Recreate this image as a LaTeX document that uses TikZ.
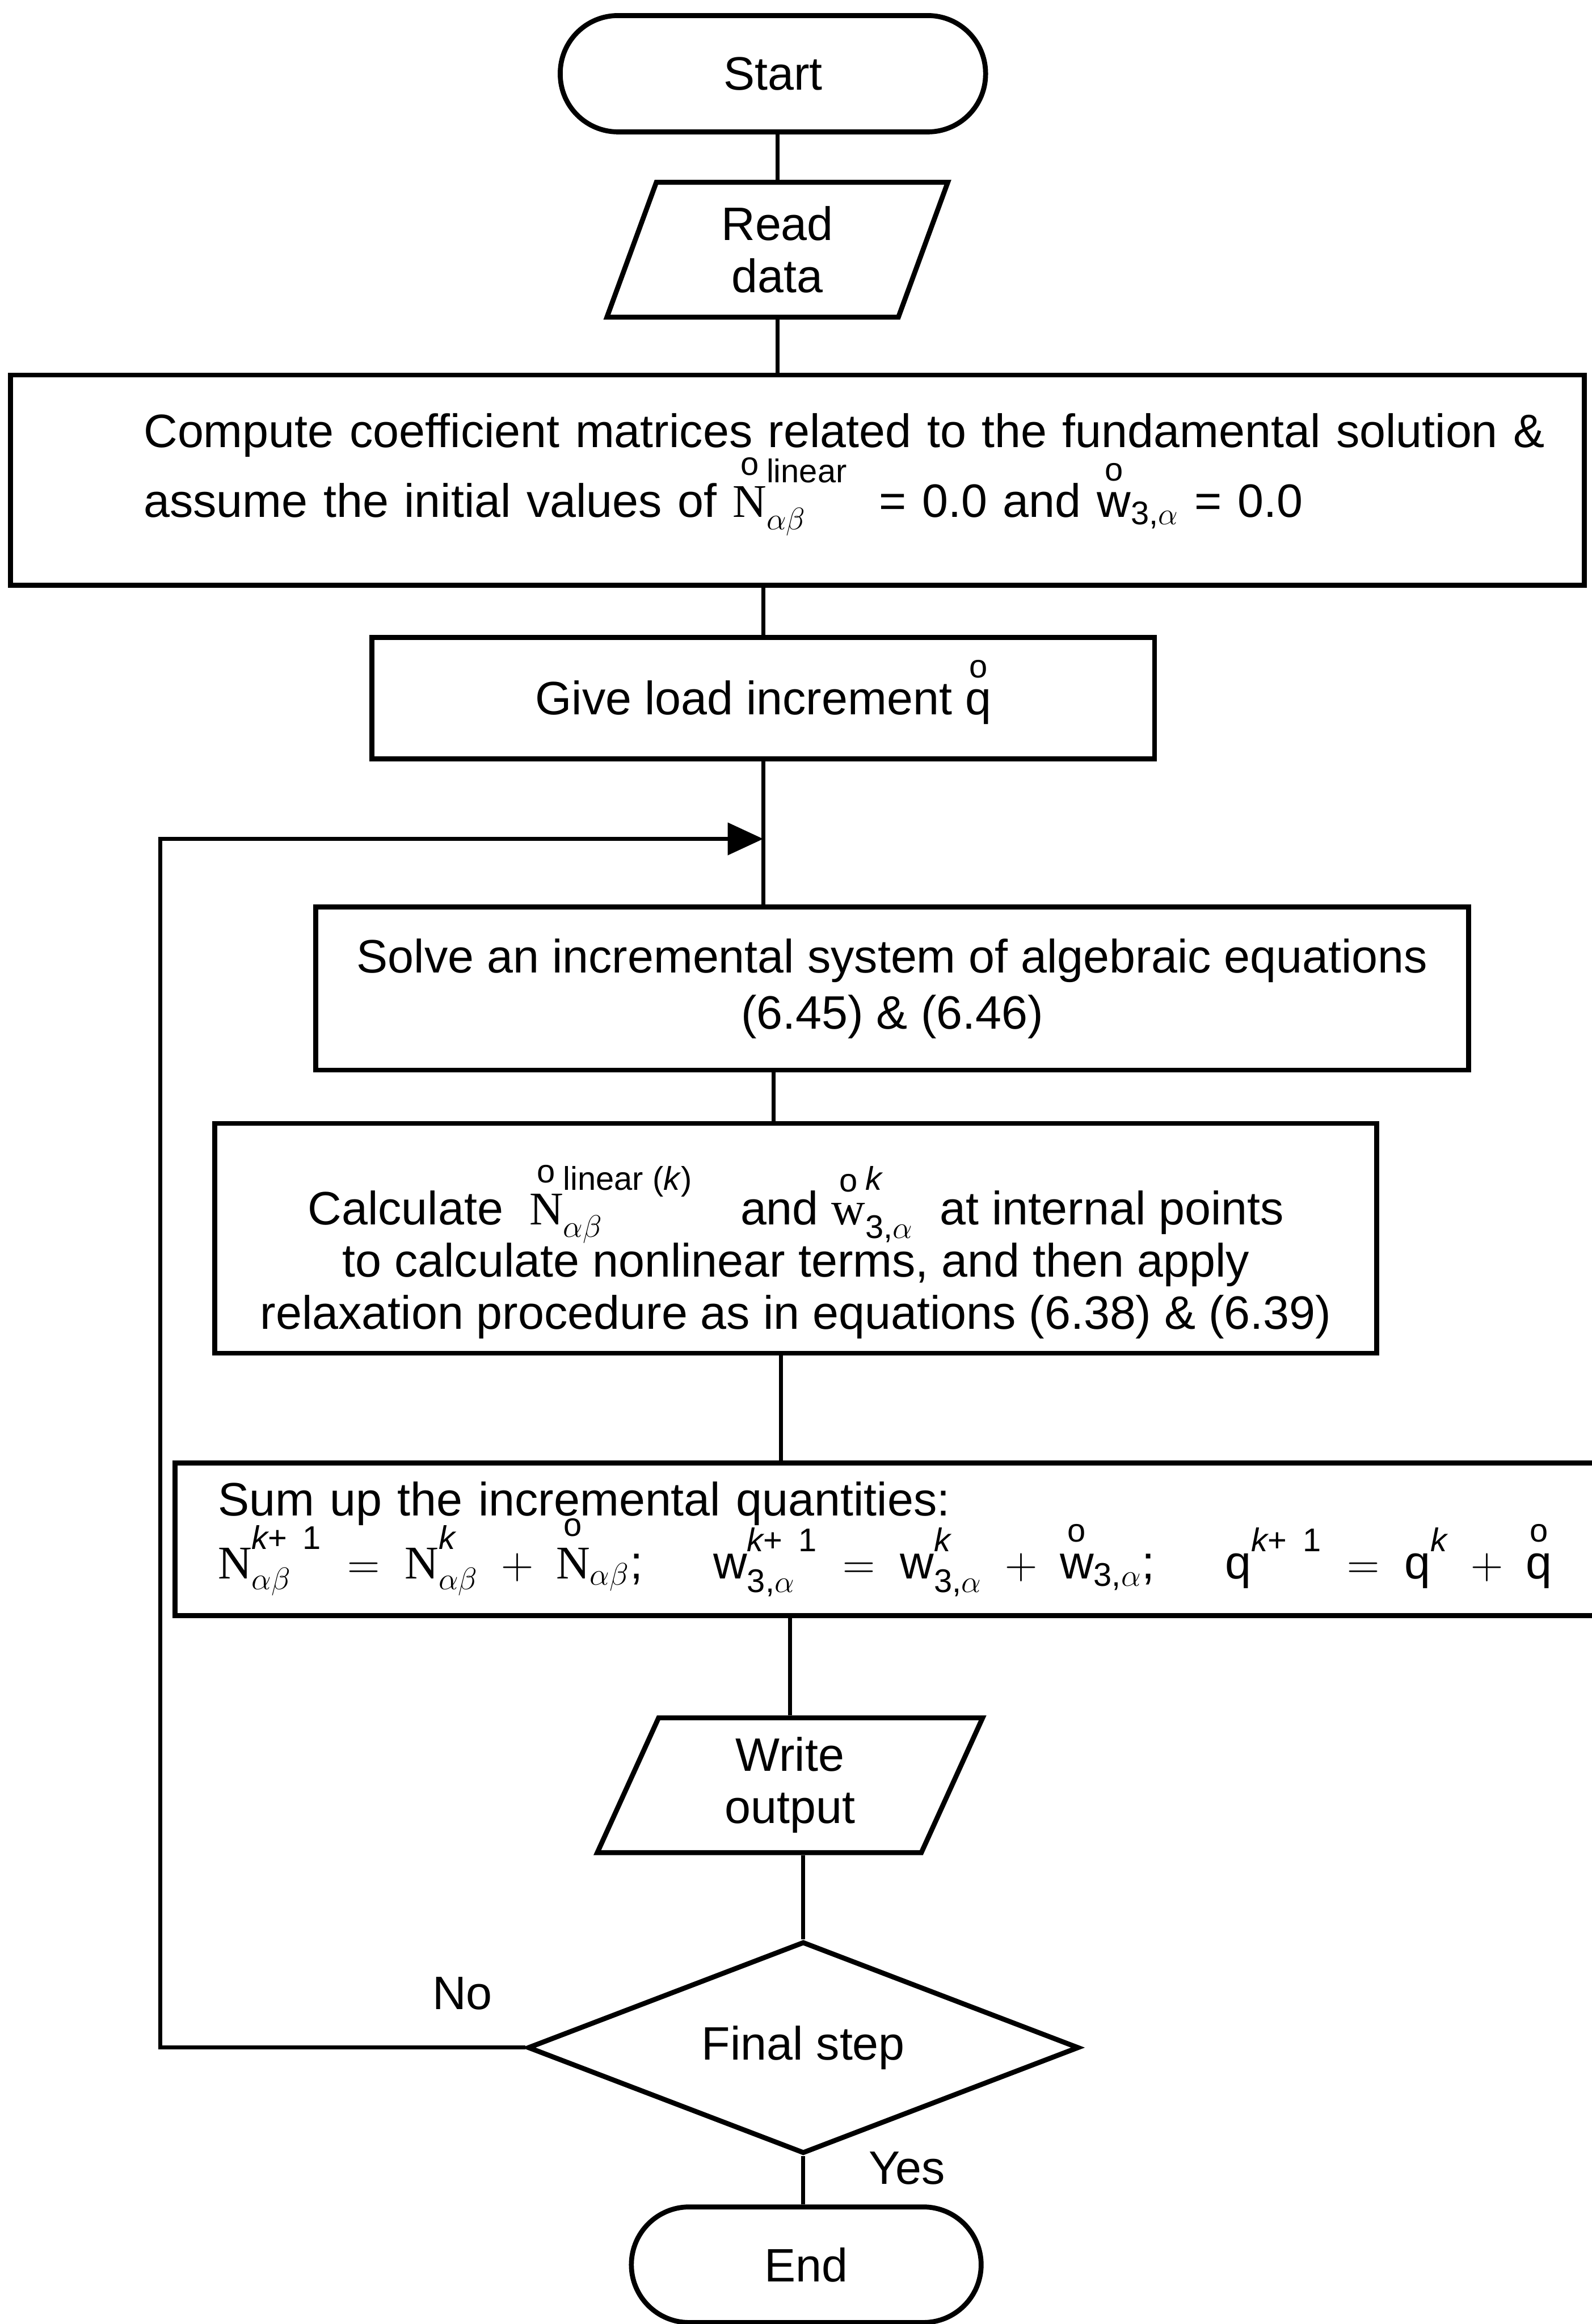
\documentclass[tikz,border=0pt]{standalone}
\usepackage{amsmath}
\usepackage{fontspec}
\setmainfont{Liberation Sans}
\newfontfamily\serifN{Liberation Serif}
\usetikzlibrary{shapes.geometric, arrows.meta}

\newcommand{\anillo}[1]{\overset{\raisebox{1pt}{$\scriptstyle\text{o}$}}{#1}}
\newcommand{\sobre}[2][4pt]{\raisebox{#1}{$\scriptstyle #2$}}
\newcommand{\NN}{\text{\serifN N}}
\newcommand{\kk}{\text{\itshape k}}

\begin{document}
\begin{tikzpicture}[
    font=\fontsize{18}{20}\selectfont,
    caja/.style={draw, line width=1.9pt, align=center},
    terminal/.style={caja, rounded corners=7.8mm, minimum height=1.57cm},
    datos/.style={caja, trapezium, trapezium stretches body=true, minimum height=1.82cm, inner sep=1mm},
    decision/.style={caja, diamond, aspect=2.6, inner sep=0pt, minimum width=7.44cm, minimum height=2.86cm},
    flecha/.style={line width=1.5pt}
]
    \useasboundingbox (0,0) rectangle (21.48,-31.36);

    % Inicio y lectura
    \node[terminal, minimum width=5.74cm] (start) at (10.43,-0.995) {Start};
    \node[datos, trapezium left angle=64, trapezium right angle=116, minimum width=4.6cm] (read) at (10.49,-3.37) {Read\\data};

    % Matrices y valores iniciales
    \node[caja, minimum width=21.24cm, minimum height=2.84cm, align=left, text width=17.64cm] (compute) at (10.76,-6.48)
        {\mbox{Compute coefficient matrices related to the fundamental solution \&}\\[0.24cm]
         assume the initial values of $\smash{\anillo{\NN}{}^{\sobre[7pt]{\text{linear}}}_{\alpha\beta}}$\ \ = 0.0 and $\smash{\anillo{\text{w}}_{\text{3,}\alpha}}$ = 0.0\rule[-4mm]{0pt}{0pt}};

    % Incremento de carga
    \node[caja, minimum width=10.56cm, minimum height=1.64cm] (load) at (10.30,-9.42) {Give load increment $\smash{\anillo{\text{q}}}$};

    % Sistema incremental
    \node[caja, minimum width=15.56cm, minimum height=2.2cm] (solve) at (12.04,-13.34)
        {Solve an incremental system of algebraic equations\\[1.5pt] (6.45) \& (6.46)};

    % Terminos no lineales
    \node[caja, minimum width=15.68cm, minimum height=3.1cm] (calc) at (10.74,-16.71)
        {\rule{0pt}{1.17cm}Calculate\ \ $\smash{\anillo{\NN}{}^{\sobre[7pt]{\text{linear (\itshape k\/\upshape)}}}_{\alpha\beta}}$\quad and $\smash{\anillo{\text{\serifN w}}{}^{\sobre[7pt]{\kk}}_{\text{3,}\alpha}}$\ \ at internal points\\
         to calculate nonlinear terms, and then apply\\
         relaxation procedure as in equations (6.38) \& (6.39)};

    % Suma de incrementos
    \node[caja, minimum width=19.34cm, minimum height=2.06cm, align=left, text width=18.18cm, inner xsep=5.8mm] (sum) at (12.03,-20.77)
        {Sum up the incremental quantities:\\[4pt]
         $\smash[t]{\NN^{\sobre{\kk\text{+ 1}}}_{\alpha\beta} \;=\; \NN^{\sobre{\kk}}_{\alpha\beta} \;+\; \anillo{\NN}_{\alpha\beta}}$;\quad\,
         $\smash[t]{\text{w}^{\sobre{\kk\text{+ 1}}}_{\text{3,}\alpha} \;=\; \text{w}^{\sobre{\kk}}_{\text{3,}\alpha} \;+\; \anillo{\text{w}}_{\text{3,}\alpha}}$;\quad\,
         $\smash[t]{\text{q}^{\sobre{\kk\text{+ 1}}} \;=\; \text{q}^{\sobre{\kk}} \;+\; \anillo{\text{q}}}$};

    % Salida y decision
    \node[datos, trapezium left angle=61, trapezium right angle=119, minimum width=5.2cm] (write) at (10.66,-24.09) {Write\\output};
    \node[decision] (final) at (10.84,-27.63) {Final step};
    \node[terminal, minimum width=4.72cm, minimum height=1.56cm] (finish) at (10.88,-30.56) {End};

    \node (no) at (6.24,-26.9) {No};
    \node[anchor=west] (yes) at (11.6,-29.26) {Yes};

    % Lineas del flujo
    \coordinate (c1) at ([xshift=-3mm]calc.north);
    \coordinate (c2) at ([xshift=-2mm]calc.south);
    \draw[flecha] (start.south -| read.north) -- (read.north);
    \draw[flecha] (read.south) -- (read.south |- compute.north);
    \draw[flecha] (load.north) -- (load.north |- compute.south);
    \draw[flecha] (load.south) -- (load.south |- solve.north);
    \draw[flecha] (c1) -- (c1 |- solve.south);
    \draw[flecha] (c2) -- (c2 |- sum.north);
    \draw[flecha] (write.north) -- (write.north |- sum.south);
    \draw[flecha] (final.north) -- (final.north |- write.south);
    \draw[flecha] (final.south) -- (final.south |- finish.north);

    % Retorno
    \coordinate (vuelta) at (2.16,-11.32);
    \draw[flecha, -{Triangle[length=4.8mm, width=4.3mm]}] (final.west) -| (vuelta) -- (vuelta -| load.south);
\end{tikzpicture}
\end{document}
